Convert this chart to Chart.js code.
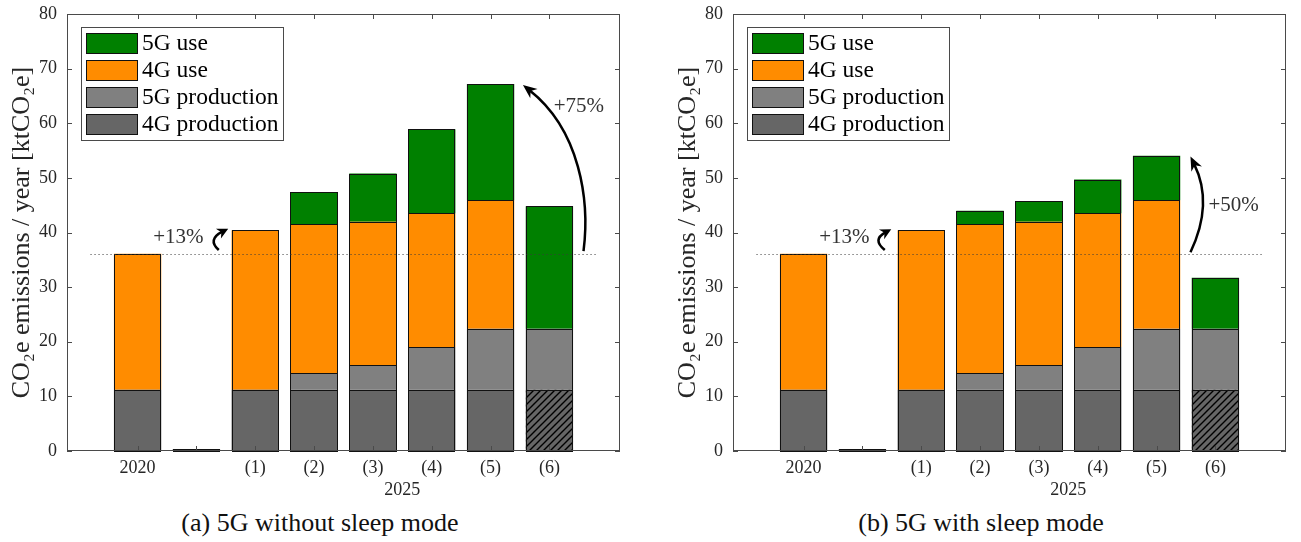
<!DOCTYPE html>
<html><head><meta charset="utf-8">
<script src="https://cdn.jsdelivr.net/npm/chart.js@4.4.0/dist/chart.umd.min.js"></script>
<style>
html,body{margin:0;padding:0;background:#fff;width:1301px;height:542px;overflow:hidden;}
.panel{position:absolute;top:0;width:635px;height:500px;}
.cap{position:absolute;top:506px;width:600px;text-align:center;font:26px "Liberation Serif",serif;color:#111;line-height:34px;}
</style></head><body>
<div class="panel" style="left:0"><canvas id="cA" width="635" height="500"></canvas></div>
<div class="panel" style="left:666px"><canvas id="cB" width="635" height="500"></canvas></div>
<div class="cap" style="left:20px">(a) 5G without sleep mode</div>
<div class="cap" style="left:681px">(b) 5G with sleep mode</div>
<script>
// ---------- data ----------
const categories = ['2020', '', '(1)', '(2)', '(3)', '(4)', '(5)', '(6)'];
const groupLabel = '2025';
const groupMembers = ['(1)', '(2)', '(3)', '(4)', '(5)', '(6)'];
const seriesNames = ['4G production', '5G production', '4G use', '5G use'];
const prod4G = [11.2, 0, 11.2, 11.2, 11.2, 11.2, 11.2, 11.2];
const prod5G = [0, 0, 0, 3.1, 4.55, 7.85, 11.2, 11.2];
const use4G = [24.9, 0, 29.2, 27.2, 26.2, 24.45, 23.5, 0];
const use5GNoSleep = [0, 0, 0, 5.9, 8.85, 15.4, 21.3, 22.4];
const use5GSleep = [0, 0, 0, 2.5, 3.75, 6.2, 8.15, 9.3];
const hatchedCategory = '(6)';
const yTickValues = [0, 10, 20, 30, 40, 50, 60, 70, 80];
const yTitle = 'CO\u2082e emissions / year [ktCO\u2082e]';
const growthA = ['+13%', '+75%'];
const growthB = ['+13%', '+50%'];

// ---------- styling ----------
const FONT = '"Liberation Serif", "Times New Roman", serif';
const colors = ['#666666', '#808080', '#ff8c00', '#008000'];

function hatchPattern() {
  const c = document.createElement('canvas'); c.width = 7; c.height = 7;
  const g = c.getContext('2d');
  g.fillStyle = '#666666'; g.fillRect(0, 0, 7, 7);
  g.strokeStyle = '#000'; g.lineWidth = 1.4;
  g.beginPath();
  g.moveTo(-1, 8); g.lineTo(8, -1);
  g.moveTo(-1, 1); g.lineTo(1, -1);
  g.moveTo(6, 8); g.lineTo(8, 6);
  g.stroke();
  return document.createElement('canvas').getContext('2d').createPattern(c, 'repeat');
}

const decor = {
  id: 'decor',
  afterDatasetsDraw(chart, args, o) {
    const {ctx, chartArea: a, scales: {x, y}} = chart;
    ctx.save();
    // bar outlines (single crisp edge between stacked segments)
    ctx.strokeStyle = '#111'; ctx.lineWidth = 1;
    chart.data.datasets.forEach((d, i) => {
      chart.getDatasetMeta(i).data.forEach(el => {
        const p = el.getProps(['x', 'y', 'base', 'width'], true);
        if (Math.abs(p.base - p.y) < 0.5) return;
        const l = Math.round(p.x - p.width / 2) + 0.5, r = Math.round(p.x + p.width / 2) - 0.5;
        const t = Math.round(Math.min(p.y, p.base)) + 0.5, b = Math.round(Math.max(p.y, p.base)) + 0.5;
        ctx.strokeRect(l, t, r - l, b - t);
      });
    });
    // dotted reference line
    ctx.strokeStyle = '#3a3a3a'; ctx.lineWidth = 1; ctx.setLineDash([1, 3]);
    const yr = Math.round(y.getPixelForValue(o.refValue)) + 0.5;
    ctx.beginPath();
    ctx.moveTo(x.getPixelForValue(o.refFrom), yr);
    ctx.lineTo(x.getPixelForValue(o.refTo), yr);
    ctx.stroke();
    ctx.setLineDash([]);
    // box
    ctx.strokeStyle = '#4a4a4a'; ctx.lineWidth = 1;
    ctx.strokeRect(a.left + 0.5, a.top + 0.5, a.right - a.left - 1, a.bottom - a.top - 1);
    // inward ticks
    const tl = 5;
    ctx.beginPath();
    x.ticks.forEach(t => {
      const px = Math.round(x.getPixelForValue(t.value)) + 0.5;
      ctx.moveTo(px, a.bottom); ctx.lineTo(px, a.bottom - tl);
      ctx.moveTo(px, a.top); ctx.lineTo(px, a.top + tl);
    });
    y.ticks.forEach(t => {
      const py = Math.round(y.getPixelForValue(t.value)) + 0.5;
      ctx.moveTo(a.left, py); ctx.lineTo(a.left + tl, py);
      ctx.moveTo(a.right, py); ctx.lineTo(a.right - tl, py);
    });
    ctx.stroke();
    // arrows
    ctx.fillStyle = '#000'; ctx.strokeStyle = '#000';
    o.arrows.forEach(ar => {
      const P = ar.pts.map(p => [x.getPixelForValue(p[0]), y.getPixelForValue(p[1])]);
      const end = P[P.length - 1], prev = P[P.length - 2];
      const dx = end[0] - prev[0], dy = end[1] - prev[1];
      const len = Math.hypot(dx, dy), ux = dx / len, uy = dy / len;
      const L = ar.head, W = ar.head * ar.ratio;
      const e2 = [end[0] - ux * L * 0.6, end[1] - uy * L * 0.6];
      ctx.lineWidth = ar.width;
      ctx.beginPath();
      ctx.moveTo(P[0][0], P[0][1]);
      if (P.length === 3) ctx.quadraticCurveTo(P[1][0], P[1][1], e2[0], e2[1]);
      else ctx.bezierCurveTo(P[1][0], P[1][1], P[2][0], P[2][1], e2[0], e2[1]);
      ctx.stroke();
      ctx.beginPath();
      ctx.moveTo(end[0], end[1]);
      ctx.lineTo(end[0] - ux * L - uy * W, end[1] - uy * L + ux * W);
      ctx.lineTo(end[0] - ux * L * 0.7, end[1] - uy * L * 0.7);
      ctx.lineTo(end[0] - ux * L + uy * W, end[1] - uy * L - ux * W);
      ctx.closePath(); ctx.fill();
    });
    // labels
    ctx.fillStyle = '#333'; ctx.font = '21px ' + FONT; ctx.textBaseline = 'middle';
    o.labels.forEach(l => {
      ctx.textAlign = l.align;
      ctx.fillText(l.text, x.getPixelForValue(l.x), y.getPixelForValue(l.y));
    });
    // group label
    const idx = groupMembers.map(g => categories.indexOf(g) + 1);
    const mid = (Math.min(...idx) + Math.max(...idx)) / 2;
    ctx.fillStyle = '#262626'; ctx.font = '18px ' + FONT; ctx.textAlign = 'center';
    ctx.fillText(groupLabel, x.getPixelForValue(mid), a.bottom + 39);
    // legend (reverse order)
    const ds = chart.data.datasets.slice().reverse();
    ctx.font = '23.5px ' + FONT;
    const tw = Math.max(...ds.map(d => ctx.measureText(d.label).width));
    const bx = Math.round(a.left + 14), by = Math.round(a.top + 13), sw = 51, sh = 20, row = 27;
    const bw = Math.round(5 + sw + 5 + tw + 5), bh = 6 + 3 * row + sh + 6;
    ctx.fillStyle = '#fff'; ctx.fillRect(bx, by, bw, bh);
    ctx.strokeStyle = '#4a4a4a'; ctx.lineWidth = 1;
    ctx.strokeRect(bx + 0.5, by + 0.5, bw, bh);
    ds.forEach((d, i) => {
      const sx = bx + 5, sy = by + 6 + i * row;
      ctx.fillStyle = d.legendColor;
      ctx.fillRect(sx, sy, sw, sh);
      ctx.strokeStyle = '#111';
      ctx.strokeRect(sx + 0.5, sy + 0.5, sw, sh);
      ctx.fillStyle = '#000'; ctx.textAlign = 'left'; ctx.textBaseline = 'middle';
      ctx.fillText(d.label, sx + sw + 5, sy + sh / 2 + 1);
    });
    ctx.restore();
  }
};

function makeChart(id, use5G, growth, geo) {
  const xs = categories.map((_, i) => i + 1);
  const pts = arr => arr.map((v, i) => ({x: xs[i], y: v}));
  const series = [prod4G, prod5G, use4G, use5G];
  const pat = hatchPattern();
  const datasets = seriesNames.map((n, k) => ({
    label: n,
    data: pts(series[k]),
    backgroundColor: k === 0 ? categories.map(c => c === hatchedCategory ? pat : colors[0]) : colors[k],
    legendColor: colors[k],
    borderWidth: 0,
    barPercentage: 0.805, categoryPercentage: 1,
    minBarLength: k === 0 ? 2 : 0
  }));
  const ref = prod4G[0] + prod5G[0] + use4G[0] + use5G[0];
  return new Chart(document.getElementById(id), {
    type: 'bar',
    data: {datasets},
    options: {
      responsive: false, animation: false, devicePixelRatio: 1,
      layout: {padding: {left: 0, top: 14, right: 15, bottom: 0}},
      plugins: {
        legend: {display: false}, tooltip: {enabled: false},
        decor: {
          refValue: ref, refFrom: 0.2, refTo: 8.8,
          arrows: geo.arrows,
          labels: [
            {text: growth[0], x: geo.t1[0], y: geo.t1[1], align: 'right'},
            {text: growth[1], x: geo.t2[0], y: geo.t2[1], align: 'center'}
          ]
        }
      },
      scales: {
        x: {
          type: 'linear', stacked: true, min: -0.2, max: 9.2, offset: false,
          grid: {display: false}, border: {display: false},
          afterBuildTicks: s => { s.ticks = xs.map(v => ({value: v})); },
          afterFit: s => { s.height = 49; },
          ticks: {autoSkip: false, maxRotation: 0, padding: -1.5, color: '#262626',
            font: {family: FONT, size: 18},
            callback: v => categories[Math.round(v) - 1] ?? ''}
        },
        y: {
          stacked: true, min: 0, max: 80,
          grid: {display: false}, border: {display: false},
          afterBuildTicks: s => { s.ticks = yTickValues.map(v => ({value: v})); },
          afterFit: s => { s.width = 67; },
          ticks: {padding: 2, color: '#262626', font: {family: FONT, size: 18}},
          title: {display: true, text: yTitle, color: '#262626',
            font: {family: FONT, size: 26}, padding: {top: 7, bottom: 0}}
        }
      }
    },
    plugins: [decor]
  });
}

makeChart('cA', use5GNoSleep, growthA, {
  arrows: [
    {pts: [[2.38, 36.8], [2.18, 38.7], [2.54, 40.7]], width: 2.6, head: 11, ratio: 0.5},
    {pts: [[8.58, 36.6], [8.69, 45.9], [8.52, 58.75], [7.55, 67.0]], width: 2.5, head: 14, ratio: 0.42}
  ],
  t1: [2.12, 39.0], t2: [8.5, 63.0]
});
makeChart('cB', use5GSleep, growthB, {
  arrows: [
    {pts: [[2.38, 36.8], [2.16, 38.7], [2.49, 40.6]], width: 2.6, head: 11, ratio: 0.5},
    {pts: [[7.576, 36.4], [7.97, 45.3], [7.576, 53.9]], width: 2.5, head: 14, ratio: 0.42}
  ],
  t1: [2.12, 39.0], t2: [8.31, 45.0]
});
</script>
</body></html>
